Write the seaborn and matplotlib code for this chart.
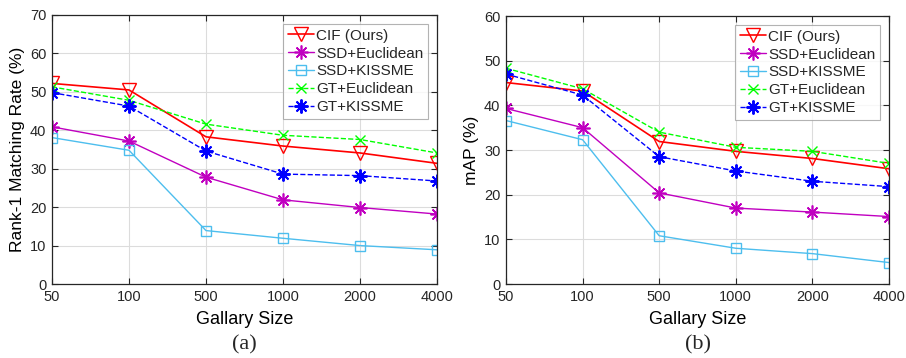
import matplotlib
matplotlib.use("Agg")
import matplotlib.pyplot as plt
import seaborn as sns
import pandas as pd

gallery = ["50", "100", "500", "1000", "2000", "4000"]
methods = ["CIF (Ours)", "SSD+Euclidean", "SSD+KISSME", "GT+Euclidean", "GT+KISSME"]

rank1_cif = [52.2, 50.5, 38.3, 35.9, 34.1, 31.4]
rank1_ssd_euc = [40.9, 37.2, 27.8, 21.9, 19.9, 18.2]
rank1_ssd_kiss = [38.1, 34.8, 13.9, 11.9, 10.0, 8.9]
rank1_gt_euc = [51.3, 47.8, 41.6, 38.7, 37.6, 34.1]
rank1_gt_kiss = [49.8, 46.3, 34.6, 28.6, 28.2, 26.8]

map_cif = [45.1, 43.2, 31.9, 29.7, 28.1, 25.8]
map_ssd_euc = [39.3, 35.0, 20.4, 17.0, 16.1, 15.1]
map_ssd_kiss = [36.6, 32.3, 10.8, 8.0, 6.8, 4.8]
map_gt_euc = [48.3, 43.7, 34.0, 30.6, 29.7, 27.0]
map_gt_kiss = [47.0, 42.3, 28.5, 25.3, 23.0, 21.8]

rank1 = [rank1_cif, rank1_ssd_euc, rank1_ssd_kiss, rank1_gt_euc, rank1_gt_kiss]
mapv = [map_cif, map_ssd_euc, map_ssd_kiss, map_gt_euc, map_gt_kiss]

styles = {
    "CIF (Ours)": dict(color="#FF0000", marker="v", ls="-", lw=1.2, ms=10, mfc="none", mew=1.0),
    "SSD+Euclidean": dict(color="#C000C0", marker=(8, 2, 0), ls="-", lw=1.0, ms=10, mfc="none", mew=1.2),
    "SSD+KISSME": dict(color="#4DBEEE", marker="s", ls="-", lw=1.0, ms=7, mfc="none", mew=1.0),
    "GT+Euclidean": dict(color="#00FF00", marker="x", ls="--", lw=1.0, ms=7, mfc="none", mew=1.0),
    "GT+KISSME": dict(color="#0000FF", marker=(8, 2, 0), ls="--", lw=1.0, ms=10, mfc="none", mew=1.4),
}

sns.set_theme(style="white")
plt.rcParams["font.family"] = ["Liberation Sans", "DejaVu Sans"]

fig = plt.figure(figsize=(9.06, 3.58), dpi=100)
ax1 = fig.add_axes([52 / 906, 1 - 284 / 358, (437 - 52) / 906, (284 - 15) / 358])
ax2 = fig.add_axes([506 / 906, 1 - 284 / 358, (889 - 506) / 906, (284 - 16) / 358])

def draw(ax, values, ylabel, ymax, ticks, caption):
    rows = []
    for m, vals in zip(methods, values):
        for g, v in zip(gallery, vals):
            rows.append({"Gallery": g, "Method": m, "Value": v})
    df = pd.DataFrame(rows)
    for m in methods:
        st = styles[m]
        sub = df[df["Method"] == m]
        sns.lineplot(data=sub, x="Gallery", y="Value", ax=ax, color=st["color"],
                     marker=st["marker"], linestyle=st["ls"], linewidth=st["lw"],
                     markersize=st["ms"], markerfacecolor=st["mfc"],
                     markeredgecolor=st["color"], markeredgewidth=st["mew"],
                     label=m, sort=False)
    ax.set_xlim(0, len(gallery) - 1)
    ax.set_ylim(0, ymax)
    ax.set_yticks(ticks)
    ax.set_xticks(range(len(gallery)))
    ax.set_xticklabels(gallery)
    ax.grid(True, color="#DCDCDC", linewidth=0.8)
    ax.set_axisbelow(True)
    ax.tick_params(direction="in", length=4, width=0.8, colors="#262626",
                   labelsize=10.5, top=True, right=True, bottom=True, left=True, pad=4)
    for s in ax.spines.values():
        s.set_color("#262626")
        s.set_linewidth(0.9)
    ax.set_xlabel("Gallary Size", fontsize=13, color="black", labelpad=5)
    ax.set_ylabel(ylabel, fontsize=12.5, color="black", labelpad=4)
    leg = ax.legend(loc="upper right", fontsize=11, frameon=True, fancybox=False,
                    edgecolor="#A0A0A0", handlelength=1.7, handletextpad=0.15,
                    borderpad=0.3, labelspacing=0.25, borderaxespad=0.6)
    leg.get_frame().set_linewidth(0.8)
    ax.text(0.5, -0.228, caption, transform=ax.transAxes, ha="center", va="center",
            fontsize=16, family="Liberation Serif")

draw(ax1, rank1, "Rank-1 Matching Rate (%)", 70, range(0, 71, 10), "(a)")
draw(ax2, mapv, "mAP (%)", 60, range(0, 61, 10), "(b)")

fig.savefig("out.png", dpi=100)
